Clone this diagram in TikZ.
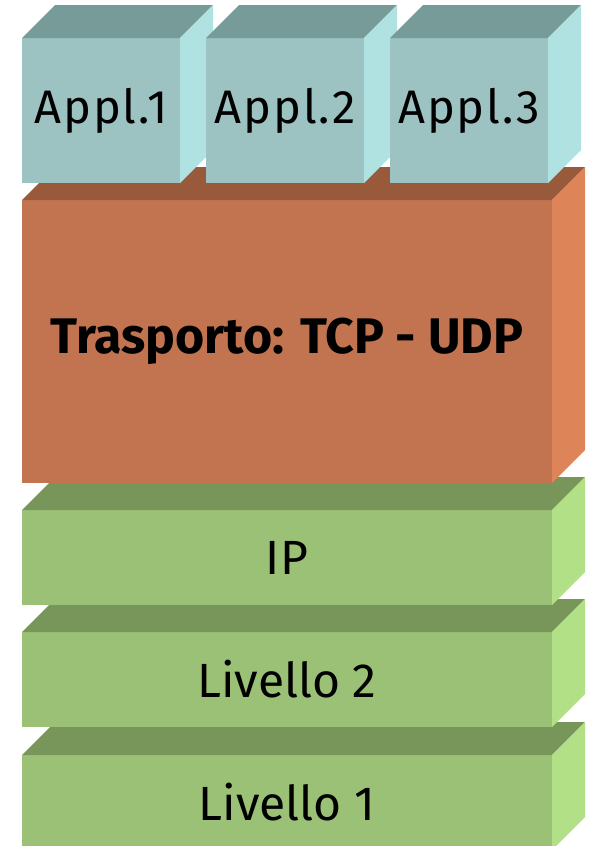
\documentclass[tikz,border=0pt]{standalone}
\usepackage{fontspec}
\setmainfont{Fira Sans}
\definecolor{applF}{HTML}{9CC3C1}
\definecolor{applT}{HTML}{779B99}
\definecolor{applS}{HTML}{B0E2E2}
\definecolor{trspF}{HTML}{C27450}
\definecolor{trspT}{HTML}{995A3C}
\definecolor{trspS}{HTML}{DE8459}
\definecolor{grnF}{HTML}{9BC176}
\definecolor{grnT}{HTML}{78965A}
\definecolor{grnS}{HTML}{B2E086}
\tikzset{every node/.style={inner sep=0pt, outer sep=0pt, anchor=north west, text=black},
  layer/.style={minimum width=530pt, minimum height=95pt, font=\fontsize{48}{56}\selectfont},
  appl/.style={fill=applF, minimum width=158pt, minimum height=145pt,
    font=\fontsize{47}{56}\selectfont\addfontfeatures{LetterSpace=4}}}

\begin{document}
\begin{tikzpicture}[x=1pt,y=-1pt]
  \useasboundingbox (0,0) rectangle (590,846);
  \clip (0,0) rectangle (590,846);
  % Livello 1
  \node[layer, fill=grnF] (liv1) at (22,755) {Livello 1};
  \fill[grnT] (liv1.north west) -- ++(33,-33) -- ++(530,0) -- (liv1.north east) -- cycle;
  \fill[grnS] (liv1.north east) -- ++(33,-33) -- ++(0,95) -- (liv1.south east) -- cycle;
  % Livello 2
  \node[layer, fill=grnF] (liv2) at (22,632) {Livello 2};
  \fill[grnT] (liv2.north west) -- ++(33,-33) -- ++(530,0) -- (liv2.north east) -- cycle;
  \fill[grnS] (liv2.north east) -- ++(33,-33) -- ++(0,95) -- (liv2.south east) -- cycle;
  % IP
  \node[layer, fill=grnF] (ip) at (22,510) {IP};
  \fill[grnT] (ip.north west) -- ++(33,-33) -- ++(530,0) -- (ip.north east) -- cycle;
  \fill[grnS] (ip.north east) -- ++(33,-33) -- ++(0,95) -- (ip.south east) -- cycle;
  % trasporto
  \node[layer, fill=trspF, minimum height=283pt, font=\fontsize{50}{60}\selectfont\bfseries]
    (trsp) at (22,200) {Trasporto: TCP - UDP};
  \fill[trspT] (trsp.north west) -- ++(33,-33) -- ++(530,0) -- (trsp.north east) -- cycle;
  \fill[trspS] (trsp.north east) -- ++(33,-33) -- ++(0,283) -- (trsp.south east) -- cycle;
  % applicazioni
  \node[appl] (app1) at (22,38) {Appl.1};
  \fill[applT] (app1.north west) -- ++(33,-33) -- ++(158,0) -- (app1.north east) -- cycle;
  \fill[applS] (app1.north east) -- ++(33,-33) -- ++(0,145) -- (app1.south east) -- cycle;
  \node[appl] (app2) at (206,38) {Appl.2};
  \fill[applT] (app2.north west) -- ++(33,-33) -- ++(158,0) -- (app2.north east) -- cycle;
  \fill[applS] (app2.north east) -- ++(33,-33) -- ++(0,145) -- (app2.south east) -- cycle;
  \node[appl] (app3) at (390,38) {Appl.3};
  \fill[applT] (app3.north west) -- ++(33,-33) -- ++(158,0) -- (app3.north east) -- cycle;
  \fill[applS] (app3.north east) -- ++(33,-33) -- ++(0,145) -- (app3.south east) -- cycle;
\end{tikzpicture}
\end{document}
